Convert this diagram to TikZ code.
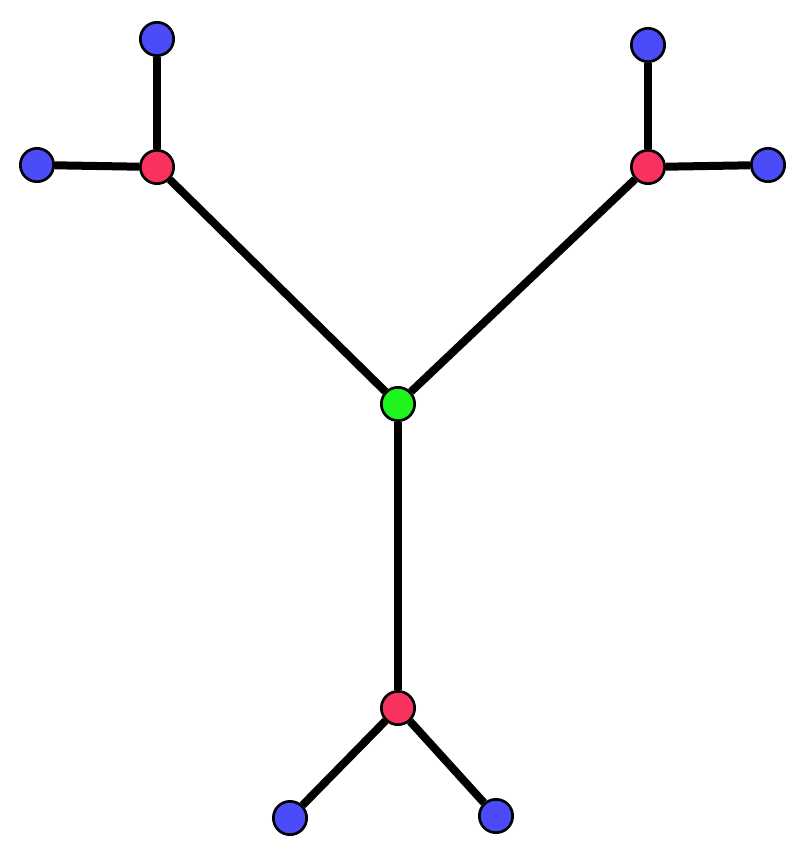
\documentclass[tikz,border=0pt]{standalone}
\usepackage{tikz}
\definecolor{leafblue}{HTML}{4B4BFA}
\definecolor{hubred}{HTML}{F7325F}
\definecolor{rootgreen}{HTML}{1EF51E}
\tikzset{
	vtx/.style={circle, draw=black, line width=2pt, minimum size=25pt, inner sep=0pt},
	leaf/.style={vtx, fill=leafblue},
	hub/.style={vtx, fill=hubred},
	root/.style={vtx, fill=rootgreen},
	edge/.style={line width=6pt, color=black}
}

\begin{document}
\begin{tikzpicture}[x=0.75pt, y=-0.75pt]
			%%%%% START %%%%%
			
			\useasboundingbox (0, 0) rectangle (799, 856);
			
			\node[root] (c) at (398, 404) {};
			
			\node[hub] (hl) at (157, 167) {};
			\node[hub] (hr) at (648, 167) {};
			\node[hub] (hb) at (398, 708) {};
			
			\node[leaf] (lt) at (157, 39) {};
			\node[leaf] (ll) at (37, 165) {};
			\node[leaf] (rt) at (648, 45) {};
			\node[leaf] (rr) at (768, 165) {};
			\node[leaf] (bl) at (290, 818) {};
			\node[leaf] (br) at (496, 816) {};
			
			\foreach \a/\b in {c/hl, c/hr, c/hb, hl/lt, hl/ll, hr/rt, hr/rr, hb/bl, hb/br}
				\draw[edge] (\a) -- (\b);
			
			%%%%% END %%%%%
		\end{tikzpicture}
\end{document}
